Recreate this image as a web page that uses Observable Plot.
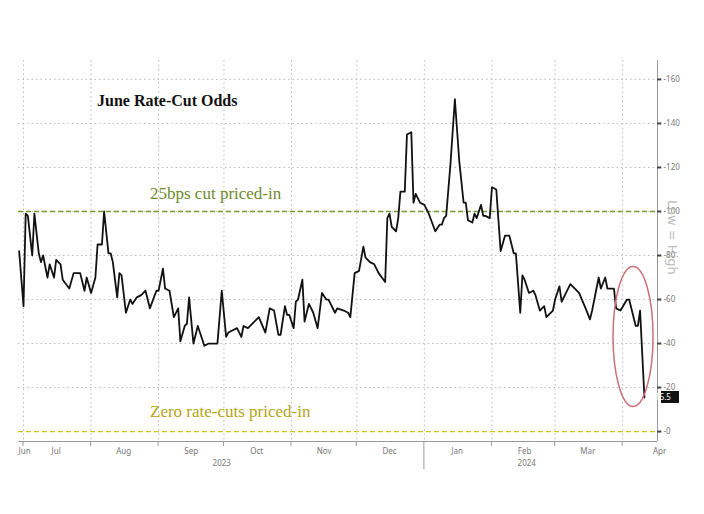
<!DOCTYPE html>
<html><head><meta charset="utf-8">
<script src="https://cdn.jsdelivr.net/npm/d3@7"></script>
<script src="https://cdn.jsdelivr.net/npm/@observablehq/plot@0.6"></script>
<style>
body{margin:0;background:#fff;}
#wrap{position:relative;width:704px;height:514px;overflow:hidden;}
.t{position:absolute;font-family:"Liberation Serif","DejaVu Serif",serif;white-space:nowrap;}
</style></head><body>
<div id="wrap"></div>
<script>
// days since 2023-07-01
const days = [-2,0,1,2,4,5,7,8,9,11,12,14,15,17,18,21,23,26,28,29,31,33,34,36,37,39,40,41,43,44,45,47,49,50,52,54,56,58,61,62,64,65,67,69,71,72,74,75,76,78,80,83,85,89,91,93,94,98,100,101,103,108,111,113,115,117,118,120,121,122,124,125,126,128,129,131,133,135,137,139,140,143,144,147,149,150,152,154,156,157,159,161,163,166,167,168,169,171,172,173,175,176,178,179,180,182,184,186,189,191,192,193,194,196,198,200,202,203,204,206,207,208,210,211,212,214,215,217,218,219,221,223,225,226,228,229,230,232,234,235,237,239,240,243,244,246,247,249,251,255,258,260,261,264,265,267,268,271,272,274,277,278,281,282,283,285];
const odds = [82,57,99,98,80,99,81,77,80,70,76,70,78,76,69,65,72,72,64,70,63,70,85,85,100,81,81,77,61,72,71,54,60,58,61,62,64,56,64,64,74,65,64,52,56,41,48,49,61,40,48,39,40,40,64,43,45,47,43,48,47,52,45,56,55,44,44,57,53,53,47,59,60,69,50,58,54,47,63,60,60,54,56,55,54,52,72,73,84,79,77,76,72,68,97,99,93,91,97,109,109,135,136,104,108,104,103,99,91,94,94,97,98,122,151,123,104,104,96,95,99,97,103,98,98,97,111,110,96,82,89,89,81,81,54,71,69,63,64,62,55,57,52,55,60,66,59,63,67,63,56,51,55,70,65,70,65,65,56,55,60,60,48,48,55,15.5];
const yTicks = [0,20,40,60,80,100,120,140,160];
const monthNames = ["Jun","Jul","Aug","Sep","Oct","Nov","Dec","Jan","Feb","Mar","Apr"];
const monthLabelDays = [0.5,15,46,77,107,138,168,199,230,259,292];
const monthStarts = [0,31,62,92,123,153,184,215,244,275];
const years = [["2023",91],["2024",231]];

const base = new Date(2023,6,1);
const D = d => new Date(base.getTime() + d*864e5);
const n = Math.min(days.length, odds.length);
const data = days.slice(0,n).map((d,i)=>({date:D(d), v:odds[i]}));
const grey="#777";

const chart = Plot.plot({
  width:704, height:514,
  marginLeft:18, marginRight:47, marginTop:60, marginBottom:73,
  x:{type:"time", domain:[D(-2.3), D(291)], axis:null},
  y:{domain:[-4.5,168.6], axis:null},
  marks:[
    Plot.ruleX(monthStarts.map(D), {stroke:"#bbb", strokeDasharray:"1.5,3", strokeWidth:1}),
    Plot.ruleY(yTicks.slice(1), {stroke:"#bbb", strokeDasharray:"1.5,3", strokeWidth:1}),
    Plot.ruleY([100], {stroke:"#7a9a30", strokeDasharray:"5,3", strokeWidth:1.4}),
    Plot.ruleY([0], {stroke:"#d6c21a", strokeDasharray:"5,3", strokeWidth:1.4}),
    Plot.line(data, {x:"date", y:"v", stroke:"#111", strokeWidth:1.8}),
    Plot.ruleX([D(291)], {y1:-4.5, y2:168.6, stroke:"#999"}),
    Plot.ruleY(yTicks, {x1:D(291), x2:D(293), stroke:"#444", strokeWidth:2}),
    Plot.text(yTicks, {x:D(291), y:d=>d, text:d=>"-"+d, dx:6, textAnchor:"start", fill:grey, fontSize:8}),
    Plot.ruleY([-4.5], {stroke:"#999"}),
    Plot.text(monthNames, {x:(d,i)=>D(monthLabelDays[i]), y:-4.5, dy:10, text:d=>d, fill:grey, fontSize:8}),
    Plot.text(years, {x:d=>D(d[1]), y:-4.5, dy:22, text:d=>d[0], fill:grey, fontSize:8})
  ]
});
document.getElementById("wrap").appendChild(chart);
const sx = chart.scale("x"), sy = chart.scale("y");
const svg = d3.select(chart);
svg.append("g").selectAll("line").data(monthStarts).join("line")
  .attr("x1",d=>sx.apply(D(d))).attr("x2",d=>sx.apply(D(d)))
  .attr("y1",sy.apply(-4.5)).attr("y2",d=>sy.apply(-4.5)+(d===184?28:5))
  .attr("stroke","#999");
svg.append("ellipse").attr("cx",sx.apply(D(280))).attr("cy",sy.apply(43))
  .attr("rx",20).attr("ry",70).attr("fill","none").attr("stroke","#c9707a").attr("stroke-width",1.5);
const lx = sx.apply(D(291))+4, ly = sy.apply(15.5);
svg.append("rect").attr("x",lx).attr("y",ly-6).attr("width",18).attr("height",12).attr("fill","#111");
svg.append("text").attr("x",lx+2).attr("y",ly+3).attr("fill","#fff").attr("font-size",8).text("15.5");
svg.append("text").attr("transform",`translate(${sx.apply(D(291))+11},${sy.apply(88)}) rotate(90)`)
  .attr("fill","#bbb").attr("font-size",13).attr("font-family","DejaVu Sans").text("Low = High");

const wrap = document.getElementById("wrap");
function label(txt, x, y, size, color, bold){
  const e=document.createElement("div"); e.className="t"; e.textContent=txt;
  e.style.left=x+"px"; e.style.top=y+"px"; e.style.fontSize=size+"px"; e.style.color=color;
  if(bold) e.style.fontWeight="bold"; wrap.appendChild(e);
}
label("June Rate-Cut Odds", 97, 92, 16, "#111", true);
label("25bps cut priced-in", 150, 184, 17, "#6f8a2e", false);
label("Zero rate-cuts priced-in", 150, 402, 17, "#b5a416", false);
</script></body></html>
